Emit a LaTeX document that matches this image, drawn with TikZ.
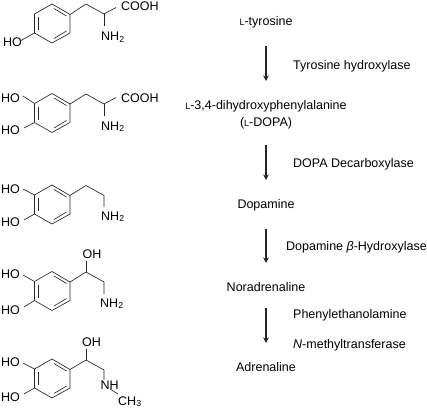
\documentclass[tikz,border=0pt]{standalone}
\usepackage{fontspec}
\setmainfont{Liberation Sans}
\usetikzlibrary{arrows.meta}
\newcommand{\smallL}{{\fontsize{9}{9}\selectfont L}}
\tikzset{
  bond/.style={line width=0.65pt, black!85},
  pathway/.style={-{Stealth[length=5.5pt, width=5.5pt]}, line width=1.1pt, black!85},
  atoms/.style={inner sep=0pt, anchor=base west},
  compound/.style={inner sep=0pt, anchor=base},
  enzyme/.style={inner sep=0pt, anchor=base west},
  benzene/.pic={
    \draw[bond] (52,4)--(70,14.5)--(70,33)--(52,43)--(34.5,33)--(34.5,14)--cycle;
    \draw[bond] (38.5,17)--(38.5,30);
    \draw[bond] (54,8.5)--(66.5,16);
    \draw[bond] (54,38.5)--(66.5,31);
  }
}
\begin{document}
\begin{tikzpicture}[x=1pt, y=-1pt, font=\fontsize{12.5}{14}\selectfont]
  \useasboundingbox (0,0) rectangle (427,409);
  % anillos
  \foreach \dy in {0,89.5,181,267.5,355}
    \pic at (0,\dy) {benzene};
  % tirosina
  \draw[bond] (34.5,33)--(21,40.5);
  \draw[bond] (70,14.5)--(86,4)--(104,14)--(116,7.5);
  \draw[bond] (104,14)--(104,26);
  \node[atoms] (hoA) at (3,47) {HO};
  \node[atoms] (coohA) at (121,11) {COOH};
  \node[atoms] (nhA) at (101,41) {NH\textsubscript{2}};
  % L-DOPA
  \draw[bond] (23,96)--(34.5,103.5);
  \draw[bond] (24,128)--(34.5,122.5);
  \draw[bond] (70,104)--(86,94)--(104,104)--(116,97.5);
  \draw[bond] (104,104)--(104,116);
  \node[atoms] (hoB) at (1,102) {HO};
  \node[atoms] (hoC) at (1,134) {HO};
  \node[atoms] (coohB) at (121,102) {COOH};
  \node[atoms] (nhB) at (101,130) {NH\textsubscript{2}};
  % dopamina
  \draw[bond] (23,189)--(34.5,195);
  \draw[bond] (24,220)--(34.5,214);
  \draw[bond] (70,195.5)--(86,185.5)--(104,195.5)--(104,207);
  \node[atoms] (hoD) at (1,193) {HO};
  \node[atoms] (hoE) at (1,226) {HO};
  \node[atoms] (nhC) at (101,220) {NH\textsubscript{2}};
  % noradrenalina
  \draw[bond] (23,275)--(34.5,281.5);
  \draw[bond] (24,307)--(34.5,300.5);
  \draw[bond] (70,282)--(86,272)--(104,282)--(104,294);
  \draw[bond] (86,272)--(86,261);
  \node[atoms] (hoF) at (1,278.5) {HO};
  \node[atoms] (hoG) at (1,314.5) {HO};
  \node[atoms] (ohA) at (82.5,258) {OH};
  \node[atoms] (nhD) at (100,307) {NH\textsubscript{2}};
  % adrenalina
  \draw[bond] (23,363)--(34.5,369);
  \draw[bond] (24,394)--(34.5,388);
  \draw[bond] (70,369.5)--(86,360)--(104,370)--(104,380);
  \draw[bond] (86,360)--(86,349);
  \draw[bond] (110,389)--(118,394);
  \node[atoms] (hoH) at (1,366.5) {HO};
  \node[atoms] (hoI) at (1,401) {HO};
  \node[atoms] (ohB) at (82,346) {OH};
  \node[atoms] (nhE) at (100.5,389) {NH};
  \node[atoms] (chE) at (118,405) {CH\textsubscript{3}};
  % compuestos
  \node[compound] (tyrosine) at (266,25.5) {\smallL-tyrosine};
  \node[compound] (ldopa) at (266,109.5) {\smallL-3,4-dihydroxyphenylalanine};
  \node[compound] (ldopab) at (266,126) {(\smallL-DOPA)};
  \node[compound] (dopamine) at (266,208.5) {Dopamine};
  \node[compound] (noradrenaline) at (266,291) {Noradrenaline};
  \node[compound] (adrenaline) at (266,371) {Adrenaline};
  % enzimas
  \node[enzyme] (tyrh) at (293,69.5) {Tyrosine hydroxylase};
  \node[enzyme] (ddc) at (293,167.5) {DOPA Decarboxylase};
  \node[enzyme] (dbh) at (286,250.5) {Dopamine \textit{β}-Hydroxylase};
  \node[enzyme] (pnmt) at (293,318.5) {Phenylethanolamine};
  \node[enzyme] (pnmtb) at (293,348) {\textit{N}-methyltransferase};
  % flechas
  \coordinate (fromA) at (266,46);
  \coordinate (toA) at (266,81);
  \coordinate (fromB) at (266,145);
  \coordinate (toB) at (266,180);
  \coordinate (fromC) at (266,229);
  \coordinate (toC) at (266,263);
  \coordinate (fromD) at (266,308);
  \coordinate (toD) at (266,343);
  \draw[pathway] (fromA)--(toA);
  \draw[pathway] (fromB)--(toB);
  \draw[pathway] (fromC)--(toC);
  \draw[pathway] (fromD)--(toD);
\end{tikzpicture}
\end{document}
